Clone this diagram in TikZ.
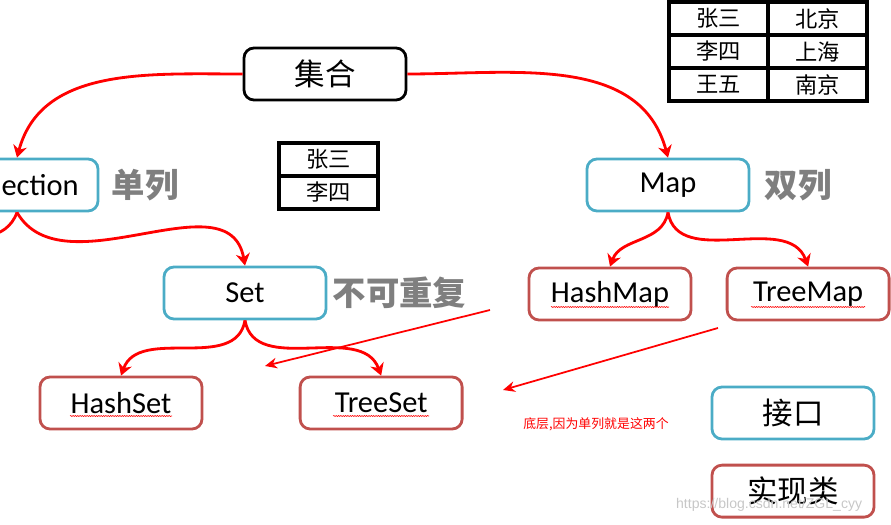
\documentclass[tikz,border=0pt]{standalone}
\usepackage{fontspec}
\setmainfont{Carlito}
\newfontfamily\cjk{Noto Sans CJK SC}
\newfontfamily\webfont{Liberation Sans}
\usepackage{xcolor}
\usetikzlibrary{positioning,arrows.meta,calc,decorations.pathmorphing}

\definecolor{boxblue}{HTML}{4BACC6}
\definecolor{boxred}{HTML}{C0504D}
\definecolor{taggray}{HTML}{7F7F7F}

\tikzset{
  box/.style={draw, line width=2.4pt, rounded corners=3mm, minimum width=48.6mm,
    minimum height=15.6mm, inner sep=0pt, font=\fontsize{26}{30}\selectfont},
  jiekou/.style={box, draw=boxblue},
  shixian/.style={box, draw=boxred},
  root/.style={box, draw=black},
  tag/.style={inner sep=0pt, text=taggray, font=\cjk\bfseries\fontsize{28.5}{32}\selectfont},
  cell/.style={draw=black, line width=3pt, outer sep=0pt, minimum width=29.7mm,
    minimum height=9.9mm, inner sep=0pt, font=\cjk\fontsize{19}{22}\selectfont},
  link/.style={draw=red, line width=2.4pt, -{Stealth[length=3.6mm,width=4.2mm]}},
  hint/.style={draw=red, line width=1.5pt, -{Stealth[length=3.6mm,width=3.2mm]}},
  squiggle/.style={draw=red, line width=0.5pt, decorate,
    decoration={snake, amplitude=0.45pt, segment length=2pt}}
}

\begin{document}
\begin{tikzpicture}[x=0.3mm, y=-0.3mm]
  \useasboundingbox (0,0) rectangle (891,525);
  \clip (0,0) rectangle (891,525);

  % top
  \node[root] (jihe) at (325,74) {\cjk 集合};

  % single column side
  \node[jiekou] (coll) at (17,185) {Collection};
  \node[tag] (danlie) [right=3.6mm of coll] {单列};
  \node[jiekou] (set) at (245,293) {Set};
  \node[tag] (buke) [right=1.5mm of set] {不可重复};
  \node[shixian] (hset) at (121,403) {HashSet};
  \node[shixian] (tset) [right=28.6mm of hset] {TreeSet};

  % double column side
  \node[jiekou] (map) at (668,185) {Map};
  \node[tag] (shuang) [right=4.2mm of map] {双列};
  \node[shixian] (hmap) at (610,294) {HashMap};
  \node[shixian] (tmap) [right=10mm of hmap] {TreeMap};

  % legend
  \node[jiekou] (lgi) at (793,413) {\cjk 接口};
  \node[shixian] (lgs) [below=7mm of lgi] {\cjk 实现类};

  % tables
  \node[cell] (z1) at (718.5,18.5) {张三};
  \node[cell] (b1) [right=0pt of z1] {北京};
  \node[cell] (z2) [below=0pt of z1] {李四};
  \node[cell] (b2) [right=0pt of z2] {上海};
  \node[cell] (z3) [below=0pt of z2] {王五};
  \node[cell] (b3) [right=0pt of z3] {南京};
  \node[cell] (s1) at (328.5,159.5) {张三};
  \node[cell] (s2) [below=0pt of s1] {李四};

  \node[text=red, font=\cjk\fontsize{11}{13}\selectfont] (note) at (596,424) {底层,因为单列就是这两个};

  % connectors
  \coordinate (listend) at (-60,238);
  \draw[link] (jihe.west) to[out=180,in=75] (coll.north);
  \draw[link] (jihe.east) to[out=0,in=105] (map.north);
  \draw[link] (coll.south) to[out=-110,in=0] (listend);
  \draw[link] (coll.south) to[out=-60,in=100] (set.north);
  \draw[link] (set.south) to[out=-100,in=70] (hset.north);
  \draw[link] (set.south) to[out=-80,in=110] (tset.north);
  \draw[link] (map.south) to[out=-100,in=70] (hmap.north);
  \draw[link] (map.south) to[out=-80,in=110] (tmap.north);

  \coordinate (p1) at (490,310);
  \coordinate (q1) at (265,366);
  \coordinate (p2) at (718,328);
  \coordinate (q2) at (503,390);
  \draw[hint] (p1) -- (q1);
  \draw[hint] (p2) -- (q2);

  % spell-check marks
  \draw[squiggle] ($(hset.center)+(-51,13)$) -- ++(102,0);
  \draw[squiggle] ($(tset.center)+(-48,13)$) -- ++(96,0);
  \draw[squiggle] ($(hmap.center)+(-59,13)$) -- ++(118,0);
  \draw[squiggle] ($(tmap.center)+(-57,13)$) -- ++(114,0);

  \node[anchor=west, text=black!22, font=\webfont\fontsize{12}{14}\selectfont] (url) at (672,505) {https://blog.csdn.net/ZGL\_cyy};
\end{tikzpicture}
\end{document}
